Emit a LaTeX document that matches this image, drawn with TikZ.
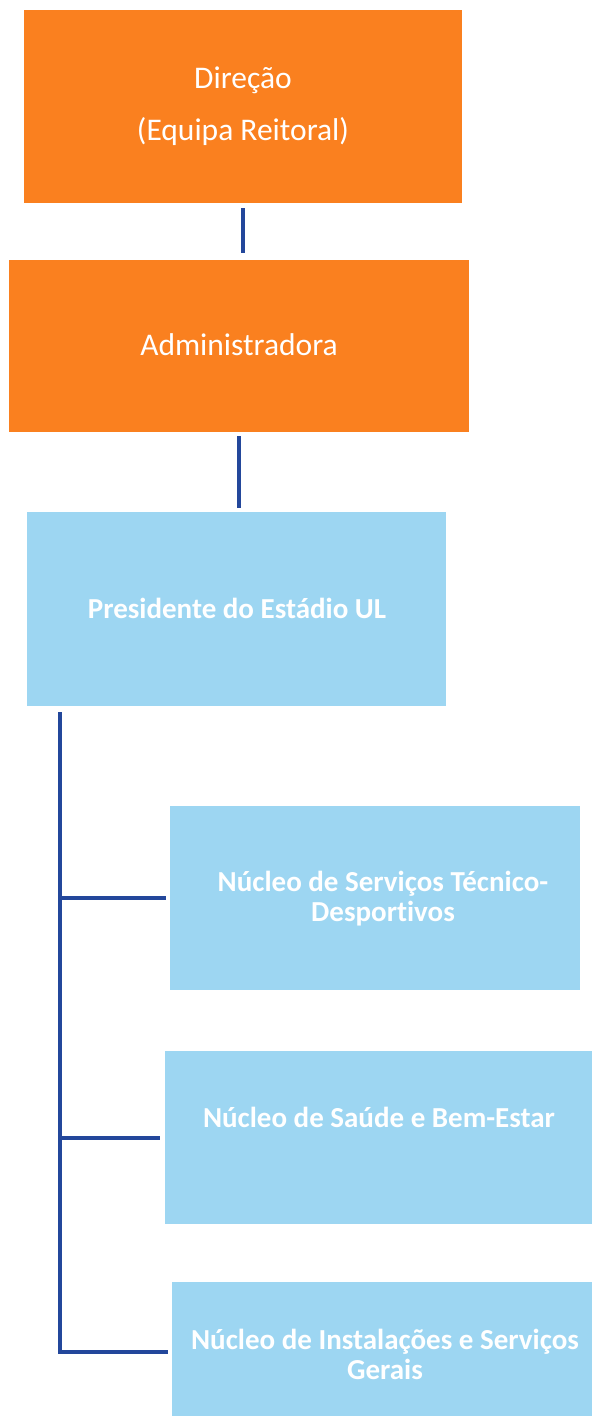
\documentclass[tikz,border=0pt]{standalone}
\usepackage{fontspec}
\setmainfont{Carlito}[Ligatures={NoCommon}]
\definecolor{boxorange}{HTML}{FA801F}
\definecolor{boxblue}{HTML}{9DD6F2}
\definecolor{linkblue}{HTML}{23479B}
\begin{document}
\begin{tikzpicture}[x=1pt,y=-1pt,
  orangebox/.style={fill=boxorange,draw=none,inner sep=0pt},
  bluebox/.style={fill=boxblue,draw=none,inner sep=0pt},
  toptext/.style={text=white,font=\fontsize{31.5}{52}\selectfont,align=center},
  subtext/.style={text=white,font=\fontsize{29}{30}\selectfont\bfseries,align=center},
  link/.style={draw=linkblue,line width=4pt}]
\useasboundingbox (0,0) rectangle (592,1416);
\clip (0,0) rectangle (592,1416);
% boxes
\node[orangebox,minimum width=438pt,minimum height=193pt] (d) at (243,106.5) {};
\node[orangebox,minimum width=460pt,minimum height=172pt] (a) at (239,346) {};
\node[bluebox,minimum width=419pt,minimum height=194pt] (p) at (236.5,609) {};
\node[bluebox,minimum width=410pt,minimum height=184pt] (n1) at (375,898) {};
\node[bluebox,minimum width=427pt,minimum height=173pt] (n2) at (378.5,1137.5) {};
\node[bluebox,minimum width=420pt,minimum height=140pt] (n3) at (382,1352) {};
% texts
\node[toptext] (dt) at (243,106) {Direção\\(Equipa Reitoral)};
\node[toptext] (at) at (239,345) {Administradora};
\node[subtext] (pt) at (237,608) {Presidente do Estádio UL};
\node[subtext] (n1t) at (383,899) {Núcleo de Serviços Técnico-\\Desportivos};
\node[subtext] (n2t) at (379,1117) {Núcleo de Saúde e Bem-Estar};
\node[subtext] (n3t) at (385,1354) {Núcleo de Instalações e Serviços\\Gerais};
% connectors
\draw[link,shorten <=5pt,shorten >=7pt] (d.south) -- (d.south |- a.north);
\draw[link,shorten <=4pt,shorten >=4pt] (a.south) -- (a.south |- p.north);
\coordinate (t0) at (60,712);
\coordinate (t3) at (60,1354);
\draw[link] (t0) -- (t3);
\draw[link,shorten >=4pt] (t0 |- n1.west) -- (n1.west);
\draw[link,shorten >=5pt] (t0 |- n2.west) -- (n2.west);
\draw[link,shorten >=4pt] (t0 |- n3.west) -- (n3.west);
\end{tikzpicture}
\end{document}
